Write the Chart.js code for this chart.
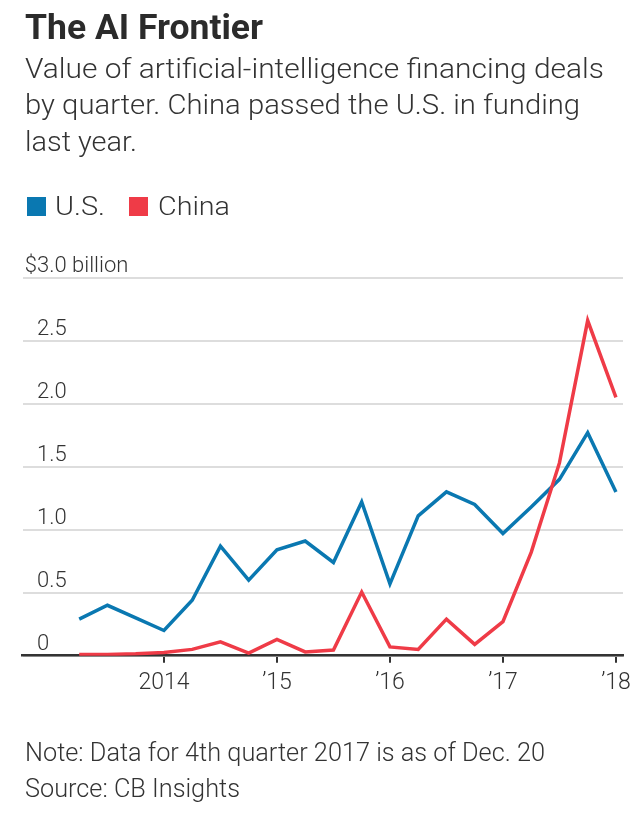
<!DOCTYPE html>
<html>
<head>
<meta charset="utf-8">
<script src="https://cdn.jsdelivr.net/npm/chart.js@4.4.1/dist/chart.umd.min.js"></script>
<style>
  html, body { margin: 0; padding: 0; background: #fff; }
  body { width: 644px; height: 814px; position: relative; overflow: hidden; font-family: Roboto, "Noto Sans", sans-serif; font-weight: 300; color: #333; }
  .txt { position: absolute; white-space: nowrap; line-height: 1; transform-origin: 0 0; display: inline-block; }
  .sq { position: absolute; width: 19px; height: 19px; }
  #wrap { position: absolute; left: 0; top: 0; width: 644px; height: 814px; }
</style>
</head>
<body>
<div id="wrap"><canvas id="chart"></canvas></div>

<div class="txt" data-x="25" data-base="39.3" data-size="35" data-w="238" style="font-weight:700;color:#2b2b2b">The AI Frontier</div>
<div class="txt" data-x="25" data-base="78.3" data-size="28" data-w="579">Value of artificial-intelligence financing deals</div>
<div class="txt" data-x="25" data-base="115" data-size="28" data-w="555">by quarter. China passed the U.S. in funding</div>
<div class="txt" data-x="25" data-base="152" data-size="28" data-w="112">last year.</div>

<div class="sq" id="sqUS" style="left:27px;top:197px"></div>
<div class="txt" data-x="55" data-base="215" data-size="25" data-w="50">U.S.</div>
<div class="sq" id="sqCN" style="left:129px;top:197px"></div>
<div class="txt" data-x="158" data-base="215" data-size="25" data-w="72">China</div>

<div class="txt" data-x="25" data-base="760.5" data-size="26" data-w="520">Note: Data for 4th quarter 2017 is as of Dec. 20</div>
<div class="txt" data-x="25" data-base="796.7" data-size="26" data-w="215">Source: CB Insights</div>

<script>
// quarters, values in $ billion
const QUARTERS = ['2013-Q1','2013-Q2','2013-Q3','2013-Q4',
                  '2014-Q1','2014-Q2','2014-Q3','2014-Q4',
                  '2015-Q1','2015-Q2','2015-Q3','2015-Q4',
                  '2016-Q1','2016-Q2','2016-Q3','2016-Q4',
                  '2017-Q1','2017-Q2','2017-Q3','2017-Q4'];
const US    = [0.29, 0.40, 0.30, 0.20, 0.44, 0.87, 0.60, 0.84, 0.91, 0.74,
               1.22, 0.57, 1.11, 1.30, 1.20, 0.97, 1.18, 1.40, 1.77, 1.30];
const CHINA = [0.01, 0.01, 0.015, 0.025, 0.05, 0.11, 0.02, 0.13, 0.03, 0.045,
               0.505, 0.07, 0.05, 0.29, 0.09, 0.27, 0.82, 1.53, 2.66, 2.05];

const X_TICKS = [2014, 2015, 2016, 2017, 2018];
const X_TICK_LABELS = ['2014', '\u201915', '\u201916', '\u201917', '\u201918'];
const Y_TICKS = [0, 0.5, 1.0, 1.5, 2.0, 2.5, 3.0];
const Y_TICK_LABELS = ['0', '0.5', '1.0', '1.5', '2.0', '2.5', '$3.0 billion'];

const BLUE = '#0a78b1';
const RED = '#ef3b47';
const INK = '#333333';

document.getElementById('sqUS').style.background = BLUE;
document.getElementById('sqCN').style.background = RED;

// place text by baseline, squeeze to the reference width
document.querySelectorAll('.txt').forEach(function(el){
    let size = +el.dataset.size;
    el.style.fontSize = size + 'px';
    el.style.left = el.dataset.x + 'px';
    el.style.top = (+el.dataset.base - 0.8415 * size) + 'px';
    let w = el.getBoundingClientRect().width;
    el.style.transform = 'scaleX(' + (+el.dataset.w / w) + ')';
});

// quarter end as a year fraction: Q1 2013 -> 2013.25
function qPos(q){
    let p = q.split('-Q');
    return +p[0] + (+p[1]) / 4;
}

function series(vals){
    return vals.map((v, i) => ({x: qPos(QUARTERS[i]), y: v}));
}

// y labels sit just above their grid lines, "$" hangs left
const yLabels = {
    id: 'yLabels',
    afterDraw(chart){
        let ctx = chart.ctx;
        let y = chart.scales.y;
        ctx.save();
        ctx.font = '300 22px Roboto';
        ctx.fillStyle = INK;
        ctx.textBaseline = 'alphabetic';
        for(let i = 0; i < Y_TICKS.length; i++){
            let py = y.getPixelForValue(Y_TICKS[i]) - 6;
            let t = Y_TICK_LABELS[i];
            if(t[0] == '$'){
                ctx.textAlign = 'right';
                ctx.fillText('$', 37, py);
                t = t.slice(1);
            }
            ctx.textAlign = 'left';
            ctx.fillText(t, 37, py);
        }
        ctx.restore();
    }
};

new Chart(document.getElementById('chart'), {
    type: 'line',
    data: {
        datasets: [{
            label: 'U.S.',
            data: series(US),
            borderColor: BLUE,
            borderWidth: 3.5,
            pointRadius: 0,
            tension: 0,
            order: 1
        }, {
            label: 'China',
            data: series(CHINA),
            borderColor: RED,
            borderWidth: 3.5,
            pointRadius: 0,
            tension: 0,
            order: 0
        }]
    },
    options: {
        responsive: true,
        maintainAspectRatio: false,
        animation: false,
        events: [],
        layout: { padding: { left: 22.7, right: 21, top: 277.7, bottom: 110.7 } },
        plugins: { legend: { display: false }, tooltip: { enabled: false } },
        scales: {
            x: {
                type: 'linear',
                min: 2012.75,
                max: 2018.0625,
                afterBuildTicks: function(scale){
                    scale.ticks = X_TICKS.map(v => ({value: v}));
                },
                ticks: {
                    padding: 6.5,
                    font: { family: 'Roboto', size: 23, weight: '300' },
                    color: INK,
                    maxRotation: 0,
                    callback: function(v){ return X_TICK_LABELS[X_TICKS.indexOf(v)]; }
                },
                grid: { drawOnChartArea: false, drawTicks: true, tickLength: 7, color: INK, lineWidth: 2 },
                border: { display: true, color: INK, width: 2.5 }
            },
            y: {
                min: 0,
                max: 3,
                afterBuildTicks: function(scale){
                    scale.ticks = Y_TICKS.map(v => ({value: v}));
                },
                ticks: { display: false },
                grid: { color: '#dddddd', lineWidth: 2, drawTicks: false },
                border: { display: false }
            }
        }
    },
    plugins: [yLabels]
});
</script>
</body>
</html>
